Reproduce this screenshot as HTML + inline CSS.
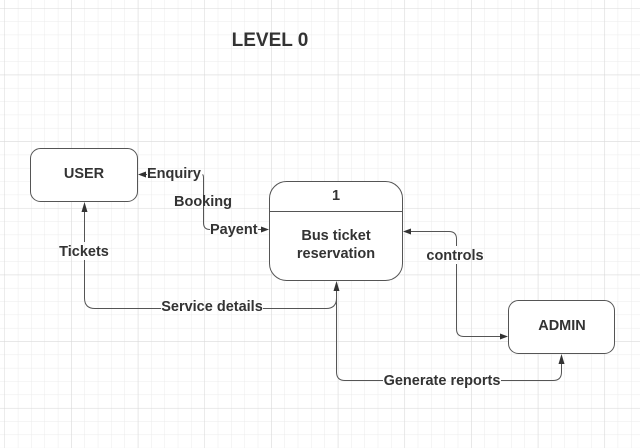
<!DOCTYPE html>
<html><head><meta charset="utf-8"><style>
html,body{margin:0;padding:0;background:#fff;}
svg{display:block;}
text{font-family:"Liberation Sans",Arial,sans-serif;font-weight:bold;fill:#333;}
</style></head><body>
<svg width="640" height="448" viewBox="0 0 640 448" xmlns="http://www.w3.org/2000/svg">
<defs>
<pattern id="minor" x="4.5" y="8" width="13.33" height="13.33" patternUnits="userSpaceOnUse">
<path d="M0 0H13.33M0 0V13.33" stroke="#ebebeb" stroke-width="1" fill="none"/>
</pattern>
<pattern id="major" x="4.5" y="8" width="66.67" height="66.67" patternUnits="userSpaceOnUse">
<path d="M0 0H66.67M0 0V66.67" stroke="#d9d9d9" stroke-width="1" fill="none"/>
</pattern>
</defs>
<rect width="640" height="448" fill="#fff"/>
<rect width="640" height="448" fill="url(#minor)"/>
<rect width="640" height="448" fill="url(#major)"/>

<text x="270" y="46" font-size="19" text-anchor="middle">LEVEL 0</text>

<rect x="30.5" y="148.5" width="107" height="53" rx="10" fill="#fff" stroke="#555" stroke-width="1"/>
<text x="84" y="178" font-size="14.5" text-anchor="middle">USER</text>

<rect x="269.5" y="181.5" width="133" height="99" rx="17" fill="#fff" stroke="#555" stroke-width="1"/>
<line x1="269.5" y1="211.5" x2="402.5" y2="211.5" stroke="#555"/>
<text x="336" y="200" font-size="14.5" text-anchor="middle">1</text>
<text x="336" y="240" font-size="14.5" text-anchor="middle">Bus ticket</text>
<text x="336" y="258" font-size="14.5" text-anchor="middle">reservation</text>

<rect x="508.5" y="300.5" width="106" height="53" rx="10" fill="#fff" stroke="#555" stroke-width="1"/>
<text x="562" y="330" font-size="14.5" text-anchor="middle">ADMIN</text>

<g stroke="#555" stroke-width="1" fill="none">
<path d="M144 174.5H147"/>
<path d="M202.5 174.5Q203.5 175 203.5 178V223Q203.5 229.5 210 229.5"/>
<path d="M258 229.5H263"/>
<path d="M336.5 288V298Q336.5 308.5 326 308.5H263"/>
<path d="M161 308.5H95Q84.5 308.5 84.5 298V260"/>
<path d="M84.5 242V210"/>
<path d="M409 231.5H449Q456.5 231.5 456.5 239V246"/>
<path d="M456.5 264V329Q456.5 336.5 464 336.5H502"/>
<path d="M336.5 298V372Q336.5 380.5 345 380.5H383"/>
<path d="M501 380.5H553Q561.5 380.5 561.5 372V362"/>
</g>
<g fill="#333">
<polygon points="138,174.5 146,171.5 146,177.5"/>
<polygon points="269,229.5 261,226.5 261,232.5"/>
<polygon points="84.5,202 81.5,212 87.5,212"/>
<polygon points="336.5,281 333.5,291 339.5,291"/>
<polygon points="403,231.5 411,228.5 411,234.5"/>
<polygon points="508,336.5 500,333.5 500,339.5"/>
<polygon points="561.5,354 558.5,364 564.5,364"/>
</g>

<g font-size="14.5">
<text x="147" y="178">Enquiry</text>
<text x="174" y="206">Booking</text>
<text x="210" y="234">Payent</text>
<text x="84" y="256" text-anchor="middle">Tickets</text>
<text x="212" y="311" text-anchor="middle">Service details</text>
<text x="455" y="260" text-anchor="middle">controls</text>
<text x="442" y="385" text-anchor="middle">Generate reports</text>
</g>
</svg>
</body></html>
